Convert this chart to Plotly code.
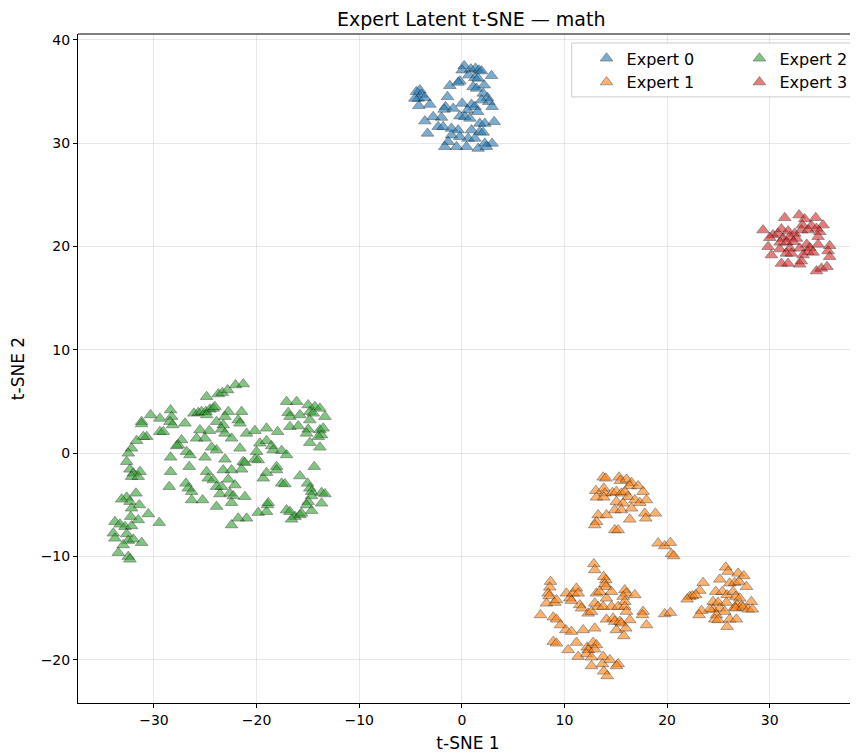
import plotly.graph_objects as go

# ---- data ----
expert0_x = [0.23, 0.03, 0.88, 1.33, 1.66, 1.92, 2.89, 0.68, 1.27, 1.59, -0.19, -1.17, -0.36, 1.10, 1.43, 2.18,
             -4.09, -4.42, -3.93, -4.25, -4.58, -3.60, -4.19, -3.12, -1.40, 2.08, 2.50, 1.92, 2.63, 0.03, 0.94,
             -1.59, -1.72, -0.84, 1.27, 2.95, 0.55, 1.53, -0.19, 0.29, 0.78, -1.98, -2.79, -3.60, 1.75, 2.24, 3.15,
             -2.31, -1.82, -1.01, -0.36, 0.94, 1.75, 2.08, -3.34, -1.01, -0.19, 0.62, 1.27, -1.33, -1.66, -0.52,
             0.45, 2.24, 2.95, 1.59, 2.40]
expert0_y = [37.48, 37.06, 37.16, 37.23, 37.06, 36.97, 36.52, 36.58, 36.32, 36.26, 36.0, 35.55, 35.87, 35.45, 35.29, 35.61,
             35.13, 34.97, 34.71, 34.32, 34.32, 34.39, 33.61, 33.74, 34.48, 34.81, 34.39, 34.16, 34.0, 33.84, 33.74,
             33.52, 33.26, 33.35, 33.52, 33.52, 33.19, 33.03, 32.61, 32.55, 32.39, 32.48, 32.55, 32.13, 31.9, 31.9, 32.06,
             31.58, 31.58, 31.42, 31.26, 31.26, 31.1, 31.03, 30.94, 30.77, 30.61, 30.45, 30.45, 30.13, 29.65, 29.65,
             29.65, 29.97, 29.97, 29.48, 29.65]

expert1_x = [13.77, 14.03, 15.32, 15.45, 16.04, 16.53, 16.36, 17.18, 17.66, 13.05, 13.83, 13.93, 13.12, 13.83, 14.68,
             15.06, 15.55, 15.88, 16.20, 15.06, 15.71, 16.85, 17.34, 17.99, 14.90, 15.55, 16.53, 17.82, 17.92, 18.86,
             13.28, 14.09, 13.12, 12.95, 16.36, 14.90, 15.23,
             12.86, 12.95, 13.83, 14.03, 13.93, 14.03, 8.64, 8.57, 8.41, 8.51, 8.25, 9.06, 9.22, 7.66, 8.90, 9.22,
             9.61, 10.13, 10.68, 11.82, 12.95, 10.19, 10.52, 10.68, 10.84, 11.17, 11.33, 11.49, 11.66, 12.31, 12.63,
             12.95, 13.28, 13.77, 14.09, 13.12, 13.44, 14.58, 15.88, 16.04, 15.71, 15.88, 16.85, 14.58, 15.23, 15.88,
             16.04, 14.09, 14.74, 14.90, 15.39, 15.55, 16.36, 15.06, 15.97, 15.78, 17.66, 17.60, 17.99,
             8.90, 9.22, 10.36, 11.17, 12.21, 12.31, 12.79, 13.12, 12.95, 12.14, 12.63, 11.33, 13.77, 14.42, 12.63,
             13.70, 15.23, 15.06, 13.83, 14.16,
             19.12, 19.77, 20.32, 20.42, 20.65, 25.71, 25.94, 26.92, 27.47, 25.13, 23.51, 26.10, 26.59, 27.01, 27.73,
             23.18, 22.21, 22.47, 22.79, 21.95, 24.74, 25.39, 25.84, 26.43, 26.69, 27.08, 24.48, 24.97, 25.78, 26.82,
             27.24, 28.21, 24.48, 25.13, 24.16, 23.35, 23.12, 19.77, 20.32, 25.62, 26.59, 26.69, 27.40, 27.89, 28.31,
             24.81, 24.64, 24.97, 26.10, 26.75, 25.84]
expert1_y = [-2.35, -2.45, -2.35, -2.68, -2.55, -2.87, -3.19, -3.19, -3.74, -3.65, -3.42, -3.90, -4.29, -4.29, -3.84,
             -3.74, -3.90, -3.74, -4.23, -4.71, -4.87, -4.55, -4.81, -4.55, -5.52, -5.52, -5.35, -5.84, -6.32, -5.84,
             -6.0, -6.0, -6.65, -6.97, -6.42, -7.45, -7.45,
             -10.74, -11.32, -11.97, -12.29, -12.68, -12.94, -12.45, -13.0, -13.58, -13.84, -14.55, -14.48, -14.23,
             -15.68, -15.90, -16.10, -16.65, -17.13, -17.29, -17.13, -16.97, -13.58, -14.06, -14.29, -13.58, -13.10,
             -13.58, -14.71, -15.03, -15.52, -15.35, -14.55, -14.87, -14.87, -14.06, -13.58, -13.42, -13.42, -13.26,
             -13.58, -13.90, -14.39, -13.74, -14.87, -14.87, -14.87, -15.35, -16.10, -16.0, -16.32, -16.32, -16.48,
             -16.16, -17.13, -16.97, -17.71, -15.35, -15.68, -16.65,
             -18.26, -18.42, -19.06, -18.35, -18.81, -19.06, -18.35, -18.58, -19.0, -19.45, -19.77, -19.71, -19.71,
             -20.03, -20.61, -20.42, -20.42, -20.61, -21.13, -21.58,
             -8.74, -9.0, -8.68, -9.77, -9.97, -11.06, -11.48, -11.65, -11.90, -12.23, -12.55, -12.61, -12.55, -12.45,
             -12.94, -13.32, -13.90, -13.84, -13.74, -14.16, -13.42, -13.42, -13.74, -13.42, -13.90, -14.06, -14.39,
             -14.48, -14.48, -14.71, -14.81, -14.39, -15.13, -15.03, -15.13, -15.26, -15.68, -15.58, -15.45, -15.35,
             -14.94, -15.03, -14.94, -15.13, -15.13, -15.68, -16.10, -16.16, -16.10, -16.10, -16.81]

expert2_x = [-24.87, -23.73, -26.10, -25.68, -25.36, -24.94, -24.55, -24.22, -24.06, -24.87, -28.38, -28.28, -28.44,
             -29.42, -30.32, -31.20, -31.20, -28.18, -29.42, -29.09, -30.71, -31.04, -31.69, -26.98, -25.52, -24.61,
             -23.90, -25.84, -25.03, -24.38, -23.90, -27.31, -27.63, -27.79, -32.18, -32.50, -26.82, -26.49, -28.38,
             -25.03, -32.66, -26.56, -32.34, -31.36, -32.01, -32.18, -31.53, -28.38, -24.87, -24.71, -24.22, -23.90,
             -26.88, -26.66, -26.33, -28.51, -26.33, -25.26, -23.90, -31.75, -32.66, -33.15, -32.34, -31.43, -32.18,
             -30.55, -32.27, -31.53, -29.48, -33.80, -33.31, -32.82, -32.18, -33.96, -33.80, -32.66, -32.50, -32.01,
             -32.99, -31.20, -33.47, -32.50, -32.34,
             -23.34, -22.82, -22.05, -21.30, -22.76, -21.46, -23.08, -21.79, -21.62, -23.25, -23.41, -23.08, -22.44,
             -20.97, -20.16, -19.03, -17.95, -19.68, -19.03, -18.54, -18.38, -17.56, -17.08, -20.0, -20.16, -19.84,
             -21.62, -23.08, -21.30, -21.14, -21.46, -23.25, -22.44, -22.76, -22.11, -23.41, -22.60, -22.27, -23.57,
             -22.44, -21.14, -19.35, -19.03, -18.05, -18.05, -17.56, -17.24, -19.84, -19.03, -18.93, -18.86, -20.97,
             -21.79, -22.44, -17.08, -16.10, -14.97, -14.32, -13.83, -13.34, -16.92, -16.75, -15.78, -14.81, -14.48,
             -14.81, -16.75, -15.94, -14.97, -15.13, -13.83, -13.67, -13.51, -13.99, -14.81, -13.83, -14.38, -15.78,
             -15.03, -14.81, -14.64, -14.64, -14.97, -15.13, -13.67, -13.34, -13.67, -14.64, -17.08, -16.75, -16.26,
             -15.78, -15.62, -16.59]
expert2_y = [5.45, 5.71, 3.84, 3.90, 4.0, 4.0, 4.23, 4.32, 4.48, 3.68, 4.16, 3.52, 3.03, 3.35, 3.68, 3.03, 2.81, 2.71,
             2.06, 2.06, 1.58, 1.58, 1.19, 2.87, 2.23, 2.16, 3.03, 1.42, 1.42, 0.55, 0.29, 1.26, 0.77, 0.68, 0.45,
             -0.03, 0.13, -0.19, -0.42, -0.42, -0.84, -1.32, -1.58, -1.81, -1.97, -2.29, -2.29, -1.81, -1.81, -2.45,
             -2.61, -3.26, -2.94, -3.42, -3.74, -3.26, -4.55, -4.55, -5.19, -3.90, -4.29, -4.48, -4.71, -5.03, -5.35,
             -5.90, -6.16, -6.48, -6.74, -6.65, -6.90, -7.13, -7.06, -7.77, -8.26, -7.84, -8.48, -8.35, -8.90, -8.68,
             -9.65, -10.03, -10.29,
             5.84, 6.10, 6.58, 6.68, 4.0, 4.0, 3.52, 3.19, 2.87, 2.71, 2.29, 1.90, 1.42, 1.90, 2.16, 2.39, 2.06, 0.94,
             1.19, 0.68, 0.29, 0.23, -0.19, 0.13, -0.61, -0.68, 0.45, -0.61, -0.84, -0.94, -1.58, -1.65, -1.65, -2.55,
             -3.10, -3.26, -3.90, -4.16, -3.97, -4.81, -4.23, -2.45, -1.90, -1.32, -1.65, -2.94, -3.0, -5.77, -5.68,
             -5.03, -4.81, -6.32, -6.32, -6.97, 4.97, 4.97, 4.65, 4.48, 4.32, 3.52, 3.90, 3.52, 3.68, 4.0, 3.84, 3.19,
             2.55, 2.61, 2.29, 1.90, 2.23, 1.74, 2.39, 1.58, 1.0, 0.55, -1.32, -2.23, -2.94, -3.42, -3.74, -4.16, -4.71,
             -5.03, -3.84, -3.97, -4.87, -5.58, -5.52, -5.68, -6.16, -6.0, -5.84, -6.42]

expert3_x = [29.35, 31.46, 32.86, 33.41, 34.48, 35.19, 33.18, 34.06, 34.55, 34.87, 30.32, 30.81, 31.14, 31.79, 32.44,
             33.09, 33.73, 30.0, 31.30, 31.95, 32.60, 34.71, 31.01, 31.66, 32.31, 33.60, 34.71, 35.84, 29.84, 30.97,
             31.95, 32.92, 33.90, 33.73, 34.22, 35.68, 31.62, 32.11, 30.16, 33.25, 31.14, 31.79, 32.92, 33.08, 34.55,
             35.03, 35.58, 35.84]
expert3_y = [21.58, 22.77, 23.03, 22.65, 22.77, 22.06, 22.06, 22.0, 21.74, 21.42, 21.10, 21.26, 21.68, 21.48, 21.26,
             21.58, 21.58, 20.84, 20.77, 20.94, 20.77, 20.94, 20.39, 20.39, 20.45, 20.19, 20.19, 20.06, 19.97, 19.74,
             19.81, 19.81, 19.87, 19.48, 19.42, 19.55, 19.32, 19.32, 19.16, 19.16, 18.35, 18.35, 18.26, 18.58, 17.61,
             17.87, 18.03, 19.0]

names = ["Expert 0", "Expert 1", "Expert 2", "Expert 3"]
colors = ["#1f77b4", "#ff7f0e", "#2ca02c", "#d62728"]
xs = [expert0_x, expert1_x, expert2_x, expert3_x]
ys = [expert0_y, expert1_y, expert2_y, expert3_y]
legend_ids = ["legend", "legend", "legend2", "legend2"]

FONT = "DejaVu Sans"
fig = go.Figure()
for name, c, x, y, lg in zip(names, colors, xs, ys, legend_ids):
    fig.add_trace(go.Scatter(
        x=x, y=y, mode="markers", name=name, legend=lg,
        marker=dict(symbol="triangle-up", size=11, color=c, opacity=0.6,
                    line=dict(color="black", width=0.6)),
    ))

axis_common = dict(
    showgrid=True, gridcolor="rgba(0,0,0,0.09)", gridwidth=1,
    zeroline=False, showline=True, linecolor="black", linewidth=1,
    ticks="outside", ticklen=4, tickcolor="black",
    tickfont=dict(family=FONT, size=14, color="black"),
    mirror=False, automargin=False,
)

# page body adds an 8px offset, so the figure is 8px smaller than the window
fig.update_layout(
    width=850, height=748,
    margin=dict(l=70, r=0, t=26, b=53),
    paper_bgcolor="white", plot_bgcolor="white",
    font=dict(family=FONT, color="black"),
    title=dict(text="Expert Latent t-SNE — math", x=0.545, xanchor="center",
               y=0.985, yanchor="middle", font=dict(family=FONT, size=19, color="black")),
    xaxis=dict(range=[-37.4, 38.6], tickvals=[-30, -20, -10, 0, 10, 20, 30],
               title=dict(text="t-SNE 1", font=dict(family=FONT, size=17), standoff=10),
               **axis_common),
    yaxis=dict(range=[-24.2, 40.56], tickvals=[-20, -10, 0, 10, 20, 30, 40],
               title=dict(text="t-SNE 2", font=dict(family=FONT, size=17), standoff=12),
               **axis_common),
    legend=dict(x=0.652, y=0.989, xanchor="left", yanchor="top", bgcolor="rgba(0,0,0,0)",
                font=dict(family=FONT, size=16), itemwidth=30, tracegroupgap=0),
    legend2=dict(x=0.848, y=0.989, xanchor="left", yanchor="top", bgcolor="rgba(0,0,0,0)",
                 font=dict(family=FONT, size=16), itemwidth=30, tracegroupgap=0),
    shapes=[dict(type="rect", xref="paper", yref="paper", x0=0.633, x1=0.999, y0=0.906, y1=0.9865,
                 line=dict(color="#cccccc", width=1), fillcolor="rgba(255,255,255,0.8)", layer="above")],
)
# top spine
fig.add_shape(type="line", xref="paper", yref="paper", x0=0, x1=1, y0=1, y1=1,
              line=dict(color="black", width=1))

fig.write_html("out.html")
